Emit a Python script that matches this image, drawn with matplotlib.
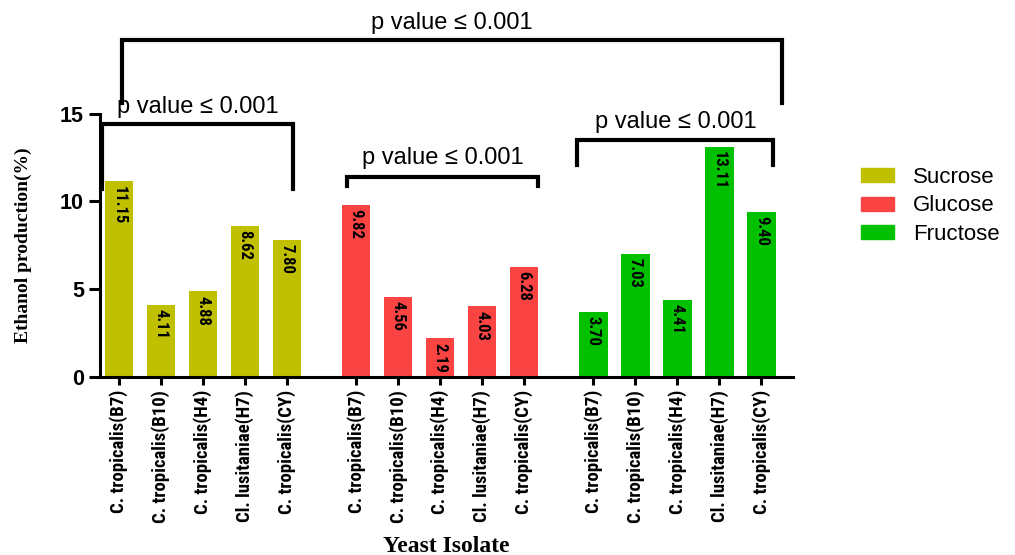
import matplotlib
matplotlib.use('Agg')
import matplotlib.pyplot as plt
from matplotlib.patches import Patch
import numpy as np

isolates = ['C. tropicalis(B7)', 'C. tropicalis(B10)', 'C. tropicalis(H4)',
            'Cl. lusitaniae(H7)', 'C. tropicalis(CY)']
sugars = ['Sucrose', 'Glucose', 'Fructose']
sucrose = [11.15, 4.11, 4.88, 8.62, 7.80]
glucose = [9.82, 4.56, 2.19, 4.03, 6.28]
fructose = [3.70, 7.03, 4.41, 13.11, 9.40]
colors = ['#C0C000', '#FA4343', '#00C000']
p_label = 'p value \u2264 0.001'

narrow = ['Roboto Condensed', 'Barlow Semi Condensed', 'DejaVu Sans']
sans = ['Liberation Sans', 'DejaVu Sans']
serif = ['Liberation Serif', 'DejaVu Serif']

fig = plt.figure(figsize=(10.15, 5.55), dpi=100)
ax = fig.add_axes([0.0985, 0.321, 0.683, 0.474])

group_step = 5.65
positions = []
for g, vals in enumerate([sucrose, glucose, fructose]):
    x = np.arange(len(vals)) + g * group_step
    positions.append(x)
    ax.bar(x, vals, width=0.68, color=colors[g], edgecolor='none')
    for xi, v in zip(x, vals):
        ax.text(xi, v - 0.25, f'{v:.2f}', rotation=270, ha='center', va='top',
                fontsize=12, fontweight='bold', family=narrow)

all_x = np.concatenate(positions)
ax.set_xticks(all_x)
ax.set_xticklabels(isolates * 3, rotation=90, fontsize=13.5, fontweight='bold',
                   family=narrow)
ax.set_xlim(-0.45, all_x[-1] + 0.76)
ax.set_ylim(0, 15)
ax.set_yticks([0, 5, 10, 15])
ax.set_yticklabels(['0', '5', '10', '15'], fontsize=15.5, fontweight='bold',
                   family=sans)
ax.tick_params(axis='both', direction='out', width=2.2, length=6)
ax.tick_params(axis='y', length=8)
for side in ['top', 'right']:
    ax.spines[side].set_visible(False)
for side in ['left', 'bottom']:
    ax.spines[side].set_linewidth(2.2)

ax.set_ylabel('Ethanol production(%)', fontsize=14, fontweight='bold',
              family=serif, labelpad=20)
fig.text(0.44, -0.003, 'Yeast Isolate', ha='center', va='bottom', fontsize=17,
         fontweight='bold', family=serif)


def bracket(x0, x1, top, leg, ty):
    ax.plot([x0, x0, x1, x1], [leg, top, top, leg], color='black', lw=3,
            clip_on=False, solid_joinstyle='miter')
    ax.text((x0 + x1) / 2, ty, p_label, ha='center', va='center',
            fontsize=17, family=sans, clip_on=False)


suc, glu, fru = positions
bracket(suc[0] - 0.4, suc[-1] + 0.15, 14.43, 10.72, 15.4)
bracket(glu[0] - 0.22, glu[-1] + 0.33, 11.41, 10.9, 12.45)
bracket(fru[0] - 0.38, fru[-1] + 0.29, 13.52, 12.09, 14.55)
bracket(suc[0] + 0.07, fru[-1] + 0.5, 19.22, 15.63, 20.15)

handles = [Patch(color=c, label=s) for c, s in zip(colors, sugars)]
fig.legend(handles=handles, loc='center left', bbox_to_anchor=(0.837, 0.629),
           frameon=False, prop={'family': sans, 'size': 16},
           handlelength=1.5, handleheight=0.6, labelspacing=0.35,
           handletextpad=0.85, borderpad=0)

fig.savefig('out.png', dpi=100)
